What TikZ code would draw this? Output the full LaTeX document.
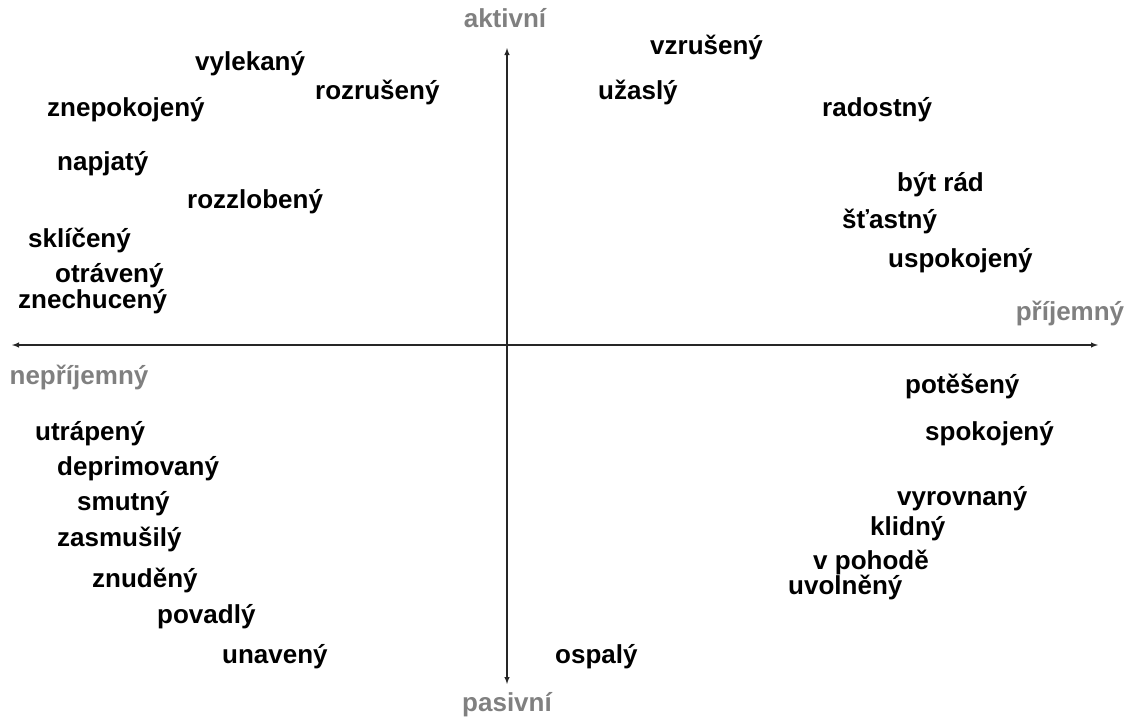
\documentclass[tikz,border=0pt]{standalone}
\usepackage{fontspec}
\setmainfont{Liberation Sans}
\usepackage{tikz}
\usetikzlibrary{positioning,arrows}
\definecolor{axisgray}{RGB}{128,128,128}

\begin{document}
\begin{tikzpicture}[x=1pt,y=-1pt]
\tikzstyle{every node} = [anchor=west, inner sep=0pt, font=\fontsize{26}{30}\selectfont\bfseries];
\tikzstyle{word} = [yshift=-2pt];
\tikzstyle{pole} = [anchor=center, text=axisgray];
\useasboundingbox (0,0) rectangle (1126,720);
% axes
\coordinate (L) at (12,345);
\coordinate (R) at (1098,345);
\coordinate (T) at (507,48);
\coordinate (B) at (507,684);
\draw[line width=1.4pt, black!85, latex-latex] (L) -- (R);
\draw[line width=1.4pt, black!85, latex-latex] (T) -- (B);
% poles
\node[pole] (akt) at (505,18) {aktivní};
\node[pole] (pas) at (507,705) {pasivní};
\node[pole] (pri) at (1070,313) {příjemný};
\node[pole] (nep) at (79,377) {nepříjemný};
% upper left
\begin{scope}[every node/.append style={word}]
\node (vylek) at (195,62) {vylekaný};
\node (rozrus) at (315,90) {rozrušený};
\node (znepok) at (47,108) {znepokojený};
\node (napj) at (57,162) {napjatý};
\node (rozzl) at (187,200) {rozzlobený};
\node (sklic) at (28,238) {sklíčený};
\node (otrav) at (55,274) {otrávený};
\node (znech) at (18,300) {znechucený};
% upper right
\node (vzrus) at (650,45) {vzrušený};
\node (uzas) at (598,90) {užaslý};
\node (rad) at (822,108) {radostný};
\node (byt) at (897,183) {být rád};
\node (stast) at (842,219) {šťastný};
\node (uspok) at (888,259) {uspokojený};
% lower right
\node (potes) at (905,384) {potěšený};
\node (spok) at (925,432) {spokojený};
\node (vyrov) at (897,497) {vyrovnaný};
\node (klid) at (870,527) {klidný};
\node (pohod) at (813,560) {v pohodě};
\node (uvol) at (788,585) {uvolněný};
\node (ospal) at (555,655) {ospalý};
% lower left
\node (utrap) at (35,432) {utrápený};
\node (deprim) at (57,467) {deprimovaný};
\node (smut) at (77,502) {smutný};
\node (zasm) at (57,537) {zasmušilý};
\node (znud) at (92,578) {znuděný};
\node (povad) at (157,615) {povadlý};
\node (unav) at (222,655) {unavený};
\end{scope}
\end{tikzpicture}
\end{document}
